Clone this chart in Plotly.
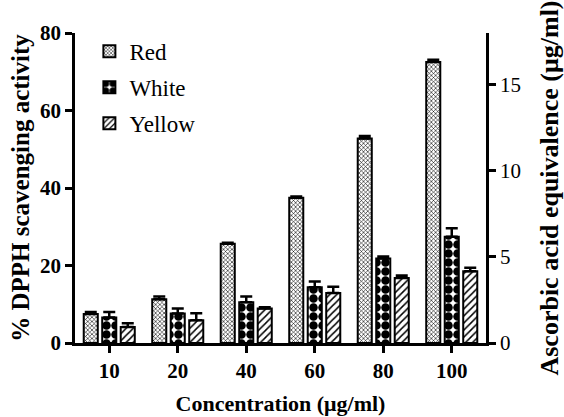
import plotly.graph_objects as go

categories = ["10", "20", "40", "60", "80", "100"]
red = [7.5, 11.3, 25.6, 37.5, 52.8, 72.5]
red_err = [0.5, 0.7, 0.3, 0.3, 0.6, 0.6]
white = [6.6, 7.6, 10.5, 14.4, 21.8, 27.4]
white_err = [1.4, 1.3, 1.5, 1.5, 0.5, 2.2]
yellow = [4.1, 5.9, 8.9, 12.9, 16.8, 18.5]
yellow_err = [1.0, 1.8, 0.3, 1.6, 0.6, 0.9]

font_family = "Liberation Serif"

def make_bar(name, vals, errs, shape, size, solidity):
    return go.Bar(
        name=name, x=categories, y=vals, legendgroup=name,
        marker=dict(color="white", line=dict(color="black", width=2),
                    pattern=dict(shape=shape, size=size, solidity=solidity,
                                 fgcolor="black", bgcolor="white", fillmode="replace")),
        error_y=dict(type="data", array=errs, arrayminus=[0]*len(errs), symmetric=False,
                     color="black", thickness=2.5, width=6),
    )

fig = go.Figure()
fig.add_trace(make_bar("Red", red, red_err, "x", 3, 0.35))
fig.add_trace(make_bar("White", white, white_err, ".", 9, 0.7))
fig.add_trace(make_bar("Yellow", yellow, yellow_err, "/", 5, 0.3))
# invisible trace for right axis
fig.add_trace(go.Scatter(x=categories, y=[None]*6, yaxis="y2", showlegend=False, hoverinfo="skip"))

fig.update_layout(
    width=564, height=417,
    margin=dict(l=75, r=78, t=33, b=74),
    paper_bgcolor="white", plot_bgcolor="white",
    barmode="group", bargap=0.19, bargroupgap=0.24,
    font=dict(family=font_family, color="black", size=20),
    showlegend=True,
    legend=dict(x=0.035, y=1.01, xanchor="left", yanchor="top",
                font=dict(size=23, family=font_family), tracegroupgap=3,
                bgcolor="rgba(0,0,0,0)"),
    xaxis=dict(
        type="category", range=[-0.5, 5.5], automargin=False,
        showline=True, linecolor="black", linewidth=2.5,
        ticks="outside", ticklen=7, tickwidth=2.5, tickcolor="black",
        tickfont=dict(size=21, family=font_family, weight="bold"),
        title=dict(text="<b>Concentration (μg/ml)</b>", font=dict(size=22, family=font_family), standoff=14),
        showgrid=False, zeroline=False,
    ),
    yaxis=dict(
        range=[0, 80], tickvals=[0, 20, 40, 60, 80], automargin=False,
        showline=True, linecolor="black", linewidth=2.5,
        ticks="outside", ticklen=7, tickwidth=2.5, tickcolor="black",
        tickfont=dict(size=21, family=font_family, weight="bold"),
        title=dict(text="<b>% DPPH scavenging activity</b>", font=dict(size=25, family=font_family), standoff=4),
        showgrid=False, zeroline=False,
    ),
    yaxis2=dict(
        overlaying="y", side="right", range=[0, 18], tickvals=[0, 5, 10, 15], automargin=False,
        showline=True, linecolor="black", linewidth=2.5,
        ticks="outside", ticklen=7, tickwidth=2.5, tickcolor="black",
        tickfont=dict(size=21, family=font_family),
        title=dict(text="<b>Ascorbic acid equivalence (μg/ml)</b>", font=dict(size=26, family=font_family), standoff=22),
        showgrid=False, zeroline=False,
    ),
)

fig.write_html("out.html")
